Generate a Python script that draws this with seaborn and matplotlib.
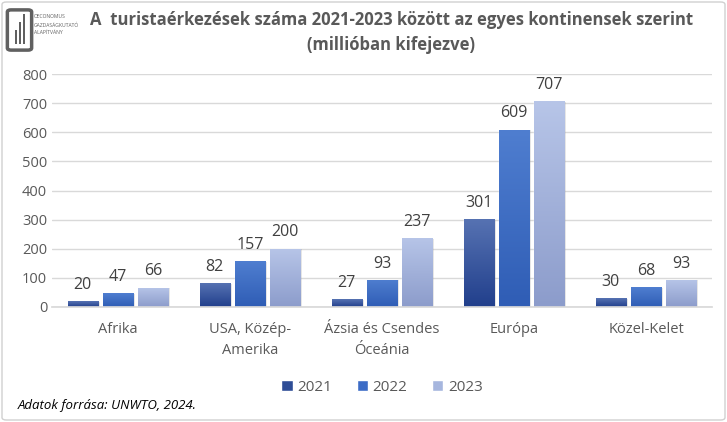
import matplotlib
matplotlib.use("Agg")
import matplotlib.pyplot as plt
import seaborn as sns
import pandas as pd
import numpy as np
from matplotlib.patches import FancyBboxPatch, Rectangle

categories = ["Afrika", "USA, Közép-\nAmerika", "Ázsia és Csendes\nÓceánia", "Európa", "Közel-Kelet"]
years = ["2021", "2022", "2023"]
v2021 = [20, 82, 27, 301, 30]
v2022 = [47, 157, 93, 609, 68]
v2023 = [66, 200, 237, 707, 93]

df = pd.DataFrame({
    "cat": categories * 3,
    "year": [years[0]] * 5 + [years[1]] * 5 + [years[2]] * 5,
    "val": v2021 + v2022 + v2023,
})

base = {"2021": "#2E4D96", "2022": "#3C6CC6", "2023": "#A6B6DE"}
grad = {"2021": ("#5672B2", "#213F8C"),
        "2022": ("#4F7ED0", "#2F5DB5"),
        "2023": ("#B7C5E8", "#8C9CCB")}

sns.set_theme(style="white")
plt.rcParams["font.family"] = ["Open Sans", "DejaVu Sans"]

fig = plt.figure(figsize=(7.27, 4.22), dpi=100)
ax = fig.add_axes([52/727, 1-307/422, 660/727, 233/422])

sns.barplot(data=df, x="cat", y="val", hue="year", palette=base, width=0.8, gap=0.14,
            ax=ax, legend=True, saturation=1)

ax.set_ylim(0, 800)
ax.set_yticks(range(0, 801, 100))
ax.yaxis.grid(True, color="#D9D9D9", lw=1)
ax.set_axisbelow(True)
for s in ["top", "right", "left"]:
    ax.spines[s].set_visible(False)
ax.spines["bottom"].set_color("#D9D9D9")
ax.tick_params(axis="both", length=0, colors="#595959", labelsize=10.5)
ax.tick_params(axis="x", pad=11)
for lab in ax.get_xticklabels():
    lab.set_linespacing(1.55)
ax.set_xlabel("")
ax.set_ylabel("")

# gradient fill for bars
for cont, yr in zip(ax.containers, years):
    top, bot = grad[yr]
    cmap = matplotlib.colors.LinearSegmentedColormap.from_list("g", [bot, top])
    for p in cont.patches:
        x0, y0 = p.get_x(), p.get_y()
        w, h = p.get_width(), p.get_height()
        sh = Rectangle((x0 + 0.012, y0), w, h - 2, facecolor="#000000", alpha=0.12,
                       zorder=p.get_zorder() - 0.1, lw=0)
        ax.add_patch(sh)
        im = ax.imshow(np.linspace(0, 1, 100).reshape(-1, 1), cmap=cmap, aspect="auto",
                       extent=[x0, x0 + w, y0, y0 + h], origin="lower",
                       zorder=p.get_zorder() + 0.1)
        im.set_clip_path(p)
    ax.bar_label(cont, padding=6, fontsize=11.5, color="#404040")

ax.set_xlim(-0.5, 4.5)
ax.set_ylim(0, 800)

leg = ax.legend(loc="upper center", bbox_to_anchor=(0.5, -0.255), ncol=3, frameon=False,
                fontsize=11, handlelength=0.75, handleheight=0.75, handletextpad=0.3,
                columnspacing=1.6)
for t in leg.get_texts():
    t.set_color("#595959")

fig.text(0.538, 1-20/422, "A  turistaérkezések száma 2021-2023 között az egyes kontinensek szerint",
         ha="center", va="center", fontsize=12, fontweight="bold", color="#595959")
fig.text(0.538, 1-45/422, "(millióban kifejezve)", ha="center", va="center",
         fontsize=12, fontweight="bold", color="#595959")
fig.text(18/727, 1-405/422, "Adatok forrása: UNWTO, 2024.", ha="left", va="center",
         fontsize=9.5, fontstyle="italic", color="black")

# logo text and simple icon
for i, t in enumerate(["OECONOMUS", "GAZDASÁGKUTATÓ", "ALAPÍTVÁNY"]):
    fig.text(34/727, 1-(17 + i*8)/422, t, fontsize=3.6, color="#606060", va="center")
fig.patches.append(FancyBboxPatch((11/727, 1-48/422), 17/727, 36/422, boxstyle="round,pad=0.005",
                                  transform=fig.transFigure, facecolor="none",
                                  edgecolor="#606060", lw=2.5))
for k, hgt in enumerate([14, 22, 30]):
    fig.patches.append(Rectangle(((15 + k*4)/727, 1-44/422), 2.2/727, hgt/422,
                                 transform=fig.transFigure, facecolor="#606060", lw=0))

# outer frame
fig.patches.append(FancyBboxPatch((2/727, 2/422), 723/727, 418/422, boxstyle="round,pad=0,rounding_size=0.006",
                                  transform=fig.transFigure, facecolor="none",
                                  edgecolor="#D0D0D0", lw=1))

fig.savefig("out.png", dpi=100)
